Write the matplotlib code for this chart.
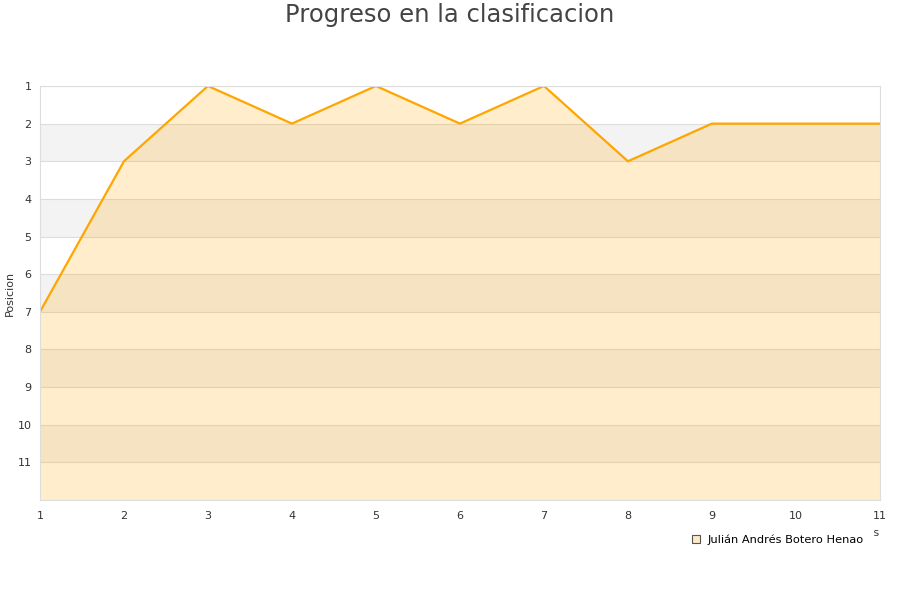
import matplotlib.pyplot as plt
from matplotlib.lines import Line2D

rounds = [1, 2, 3, 4, 5, 6, 7, 8, 9, 10, 11]
position = [7, 3, 1, 2, 1, 2, 1, 3, 2, 2, 2]
player = "Julián Andrés Botero Henao"
y_ticks = list(range(1, 12))

fig = plt.figure(figsize=(9, 6), dpi=100)
ax = fig.add_axes([0.0444, 0.1667, 0.9333, 0.69])

# alternating bands
for k in range(1, 12):
    if k % 2 == 0:
        ax.axhspan(k, k + 1, color="#f3f3f3", zorder=0, lw=0)
for k in range(1, 13):
    ax.axhline(k, color="#dddddd", lw=0.8, zorder=0.5)

ax.fill_between(rounds, position, 12, color="#FFA500", alpha=0.2, lw=0, zorder=1)
ax.plot(rounds, position, color="#FFA500", lw=1.6, zorder=2)

ax.set_xlim(1, 11)
ax.set_ylim(12, 1)
ax.set_xticks(rounds)
ax.set_yticks(y_ticks)
ax.tick_params(length=0, labelsize=8, colors="#333333", pad=6)
ax.tick_params(axis="x", pad=8)
for s in ax.spines.values():
    s.set_color("#dddddd")
ax.set_ylabel("Posicion", fontsize=8, color="#333333")
ax.yaxis.set_label_coords(-0.03, 0.5)
ax.set_xlabel("Jornadas", fontsize=8, color="#333333", loc="right", labelpad=5)

fig.suptitle("Progreso en la clasificacion", fontsize=17.5, color="#444444", y=0.995)

handle = Line2D([], [], marker="s", ls="", markersize=6,
                markerfacecolor="#fde9c8", markeredgecolor="#555555", markeredgewidth=0.8)
leg = fig.legend([handle], [player], loc="center left", bbox_to_anchor=(0.757, 0.1),
                 frameon=True, fontsize=8.2, handletextpad=0.5, borderpad=0.8,
                 handlelength=1.0, borderaxespad=0)
leg.get_frame().set_edgecolor("white")
leg.get_frame().set_facecolor("white")
leg.get_frame().set_alpha(1)
leg.get_frame().set_boxstyle("square", pad=0)

fig.savefig("out.png")
